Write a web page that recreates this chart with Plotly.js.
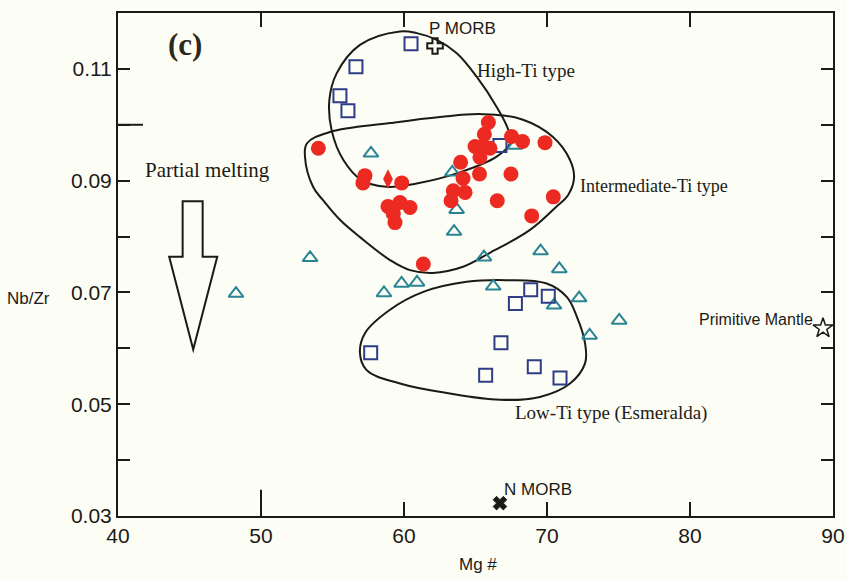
<!DOCTYPE html>
<html>
<head>
<meta charset="utf-8">
<script src="https://cdn.plot.ly/plotly-3.0.1.min.js"></script>
<style>html,body{margin:0;padding:0;background:#fcfdf5;}#chart{width:847px;height:580px;}</style>
</head>
<body>
<div id="chart"></div>
<script>
// High-Ti samples (open squares) and low-Ti (Esmeralda) squares
const squareMg = [60.49, 56.64, 55.52, 56.08, 66.71, 57.67, 66.78, 65.71, 69.11, 70.91, 67.79, 68.86, 70.09];
const squareNbZr = [0.1145, 0.1104, 0.1052, 0.1025, 0.0963, 0.0592, 0.0610, 0.0552, 0.0567, 0.0547, 0.0680, 0.0705, 0.0693];

// Open triangles
const triMg = [48.25, 53.43, 57.69, 63.38, 67.76, 63.68, 63.50, 65.59, 69.55, 70.86, 58.60, 59.83, 60.91, 66.24, 72.25, 70.49, 72.98, 75.05];
const triNbZr = [0.0698, 0.0762, 0.0949, 0.0915, 0.0963, 0.0848, 0.0809, 0.0763, 0.0774, 0.0742, 0.0699, 0.0716, 0.0718, 0.0711, 0.0690, 0.0677, 0.0623, 0.0650];

// Filled red circles (intermediate-Ti)
const circMg = [54.01, 57.27, 57.13, 59.84, 58.88, 59.72, 60.42, 59.25, 59.37, 61.35, 65.90, 65.62, 64.97, 65.55, 66.01, 65.31, 67.52, 68.29, 69.86, 63.96, 64.13, 65.28, 67.48, 63.45, 64.27, 63.29, 66.52, 70.44, 68.93];
const circNbZr = [0.0958, 0.0909, 0.0896, 0.0896, 0.0854, 0.0861, 0.0852, 0.0841, 0.0825, 0.0751, 0.1004, 0.0983, 0.0961, 0.0962, 0.0958, 0.0942, 0.0979, 0.0970, 0.0968, 0.0933, 0.0904, 0.0912, 0.0912, 0.0882, 0.0879, 0.0864, 0.0864, 0.0871, 0.0837];

// Red diamond
const diaMg = [58.88];
const diaNbZr = [0.0903];

// Reference compositions
const pMorbMg = [62.17], pMorbNbZr = [0.1141];
const nMorbMg = [66.71], nMorbNbZr = [0.0323];
const pmMg = [89.30], pmNbZr = [0.0636];

// Field outlines
const highTiMg = [59.72, 56.92, 55.29, 54.78, 54.94, 55.76, 57.04, 58.79, 60.89, 63.69, 66.48, 67.41, 67.29, 66.48, 65.08, 63.69, 62.29, 60.89, 59.72];
const highTiNbZr = [0.1167, 0.1143, 0.1092, 0.1044, 0.0990, 0.0937, 0.0901, 0.0889, 0.0895, 0.0913, 0.0943, 0.0967, 0.0991, 0.1032, 0.1086, 0.1128, 0.1152, 0.1164, 0.1167];

const interTiMg = [53.08, 53.22, 54.83, 59.02, 62.52, 65.52, 68.32, 70.42, 71.61, 71.89, 71.47, 70.63, 68.81, 66.01, 64.13, 62.03, 60.42, 59.02, 56.92, 55.52, 54.34, 53.64, 53.08];
const interTiNbZr = [0.0942, 0.0967, 0.0987, 0.1003, 0.1014, 0.1019, 0.1009, 0.0978, 0.0937, 0.0905, 0.0874, 0.0853, 0.0812, 0.0771, 0.0746, 0.0735, 0.0740, 0.0758, 0.0799, 0.0830, 0.0865, 0.0889, 0.0942];

const lowTiMg = [64.38, 67.18, 69.98, 71.38, 72.08, 72.66, 72.66, 71.61, 69.51, 66.71, 62.99, 59.72, 57.39, 56.92, 57.27, 59.02, 61.35, 64.38];
const lowTiNbZr = [0.0719, 0.0722, 0.0716, 0.0692, 0.0657, 0.0609, 0.0573, 0.0537, 0.0513, 0.0508, 0.0520, 0.0537, 0.0561, 0.0591, 0.0627, 0.0669, 0.0701, 0.0719];

const xTicks = [40, 50, 60, 70, 80, 90];
const yTicks = [0.03, 0.05, 0.07, 0.09, 0.11];

const ink = '#1c1a16';
const outline = (x, y) => ({x: x, y: y, mode: 'lines', type: 'scatter', hoverinfo: 'skip',
  line: {color: ink, width: 2, shape: 'spline', smoothing: 1.1}, showlegend: false});

const traces = [
  outline(highTiMg, highTiNbZr),
  outline(interTiMg, interTiNbZr),
  outline(lowTiMg, lowTiNbZr),
  {x: triMg, y: triNbZr, mode: 'markers', type: 'scatter', showlegend: false,
   marker: {symbol: 'triangle-up-open', size: 13, color: '#2a8494', line: {width: 2, color: '#2a8494'}}},
  {x: squareMg, y: squareNbZr, mode: 'markers', type: 'scatter', showlegend: false,
   marker: {symbol: 'square-open', size: 13, color: '#2f3c86', line: {width: 2, color: '#2f3c86'}}},
  {x: circMg, y: circNbZr, mode: 'markers', type: 'scatter', showlegend: false,
   marker: {symbol: 'circle', size: 15, color: '#ec2a22'}},
  {x: diaMg, y: diaNbZr, mode: 'markers', type: 'scatter', showlegend: false,
   marker: {symbol: 'diamond-tall', size: 14, color: '#ec2a22'}},
  {x: pMorbMg, y: pMorbNbZr, mode: 'markers', type: 'scatter', showlegend: false,
   marker: {symbol: 'cross-open', size: 13, color: ink, line: {width: 2, color: ink}}},
  {x: nMorbMg, y: nMorbNbZr, mode: 'markers', type: 'scatter', showlegend: false,
   marker: {symbol: 'x', size: 12, color: ink, line: {width: 1, color: ink}}},
  {x: pmMg, y: pmNbZr, mode: 'markers', type: 'scatter', showlegend: false, cliponaxis: false,
   marker: {symbol: 'star-open', size: 15, color: ink, line: {width: 1.5, color: ink}}}
];

const sans = 'Liberation Sans, Arial, sans-serif';
const serif = 'Liberation Serif, Times New Roman, serif';

const layout = {
  width: 847, height: 580,
  margin: {l: 118, r: 14, t: 13, b: 64},
  paper_bgcolor: '#fcfdf5', plot_bgcolor: '#fcfdf5',
  showlegend: false,
  xaxis: {range: [40, 90], tickvals: xTicks, ticktext: xTicks.map(String), ticks: 'inside', ticklen: 14, tickwidth: 2,
    tickcolor: ink, showline: true, linecolor: ink, linewidth: 2, mirror: 'ticks', showgrid: false, zeroline: false,
    tickfont: {family: sans, size: 21, color: ink}},
  yaxis: {range: [0.03, 0.12], tickvals: yTicks, ticktext: yTicks.map(v => v.toFixed(2)), ticks: 'inside', ticklen: 12, tickwidth: 2,
    tickcolor: ink, showline: true, linecolor: ink, linewidth: 2, mirror: 'ticks', showgrid: false, zeroline: false,
    tickfont: {family: sans, size: 21, color: ink},
    minor: {dtick: 0.01, tick0: 0.03, ticks: 'inside', ticklen: 12, tickwidth: 2, tickcolor: ink, showgrid: false}},
  shapes: [
    {type: 'line', xref: 'x', yref: 'paper', x0: 50, x1: 50, y0: 0, y1: 0.052, line: {color: ink, width: 2}},
    {type: 'line', xref: 'paper', yref: 'y', x0: 0, x1: 0.035, y0: 0.10, y1: 0.10, line: {color: ink, width: 2}},
    {type: 'path', xref: 'x', yref: 'y',
     path: 'M 44.52 0.0863 L 45.92 0.0863 L 45.92 0.0764 L 46.94 0.0764 L 45.26 0.0598 L 43.58 0.0764 L 44.52 0.0764 Z',
     line: {color: ink, width: 2}, fillcolor: 'rgba(0,0,0,0)'}
  ],
  annotations: [
    {text: '<b>(c)</b>', x: 44.69, y: 0.1143, xref: 'x', yref: 'y', showarrow: false, font: {family: serif, size: 31, color: '#2e2818'}},
    {text: 'P MORB', x: 64.06, y: 0.1173, xref: 'x', yref: 'y', showarrow: false, font: {family: sans, size: 17, color: ink}},
    {text: 'High-Ti type', x: 68.53, y: 0.1098, xref: 'x', yref: 'y', showarrow: false, font: {family: serif, size: 19, color: ink}},
    {text: 'Intermediate-Ti type', x: 72.17, y: 0.0890, xref: 'x', yref: 'y', xanchor: 'left', showarrow: false, font: {family: serif, size: 18, color: ink}},
    {text: 'Partial melting', x: 46.29, y: 0.0919, xref: 'x', yref: 'y', showarrow: false, font: {family: serif, size: 21, color: ink}},
    {text: 'Low-Ti type (Esmeralda)', x: 74.48, y: 0.0484, xref: 'x', yref: 'y', showarrow: false, font: {family: serif, size: 19, color: ink}},
    {text: 'Primitive Mantle', x: 88.74, y: 0.0651, xref: 'x', yref: 'y', xanchor: 'right', showarrow: false, font: {family: sans, size: 16, color: ink}},
    {text: 'N MORB', x: 69.37, y: 0.0348, xref: 'x', yref: 'y', showarrow: false, font: {family: sans, size: 17, color: ink}},
    {text: 'Nb/Zr', x: -0.158, y: 0.433, xref: 'paper', yref: 'paper', xanchor: 'left', showarrow: false, font: {family: sans, size: 17, color: ink}},
    {text: 'Mg #', x: 0.503, y: -0.0974, xref: 'paper', yref: 'paper', yanchor: 'middle', showarrow: false, font: {family: sans, size: 17, color: ink}}
  ]
};

Plotly.newPlot('chart', traces, layout, {displayModeBar: false, staticPlot: true});
</script>
</body>
</html>
